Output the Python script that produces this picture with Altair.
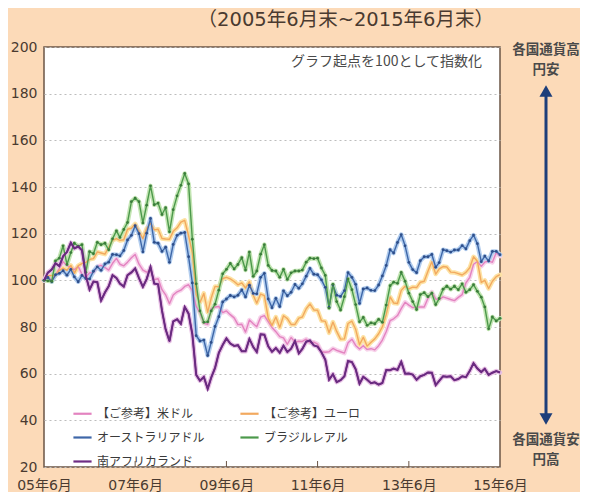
import altair as alt
import pandas as pd

# Monthly points, June 2005 .. June 2015 (index, start = 100)
dates = pd.date_range("2005-06-30", "2015-06-30", freq="ME").strftime("%Y-%m-%dT00:00:00").tolist()

names = ["【ご参考】米ドル", "【ご参考】ユーロ", "オーストラリアドル", "ブラジルレアル", "南アフリカランド"]

usd = [100, 101.4, 100.1, 102.3, 105.0, 108.0, 106.3,
       105.7, 104.5, 106.0, 102.6, 101.3, 103.2, 103.3, 105.9, 106.4, 105.5, 104.4, 107.3,
       109.4, 106.9, 106.2, 107.8, 109.7, 111.1, 106.9, 104.4, 103.5, 104.0, 100.3, 100.7,
       96.0, 93.8, 90.0, 93.7, 95.1, 95.8, 97.4, 98.1, 95.6, 88.8, 86.1, 81.7,
       81.1, 87.9, 88.6, 88.8, 86.2, 86.9, 85.3, 83.9, 81.0, 81.2, 77.8, 83.0,
       81.4, 80.1, 84.2, 84.9, 82.3, 79.8, 78.0, 75.9, 75.3, 72.6, 75.5, 73.5,
       73.9, 73.8, 74.8, 73.2, 73.5, 72.7, 69.4, 69.2, 69.4, 70.8, 70.0, 69.4,
       68.8, 73.2, 74.8, 72.1, 70.6, 72.0, 70.4, 70.7, 70.2, 72.0, 74.4, 78.1,
       82.7, 83.5, 84.9, 87.9, 90.6, 89.4, 88.3, 88.5, 88.6, 88.6, 92.3, 95.0,
       92.0, 91.8, 92.9, 92.4, 91.8, 91.3, 92.7, 93.9, 98.9, 101.3, 106.9, 108.0,
       106.0, 107.8, 108.3, 107.7, 111.9, 110.4]

eur = [100, 101.9, 102.1, 102.1, 104.2, 105.2, 104.3,
       106.4, 103.0, 106.3, 107.2, 107.7, 109.0, 109.3, 112.2, 111.7, 111.2, 114.1, 117.1,
       117.9, 117.1, 117.4, 121.9, 122.3, 124.2, 121.0, 117.8, 122.2, 124.5, 121.6, 121.9,
       117.9, 117.7, 117.6, 121.0, 122.5, 124.9, 125.7, 119.1, 111.9, 93.8, 90.5, 94.4,
       86.3, 92.4, 97.4, 97.2, 100.8, 101.3, 100.6, 99.5, 98.1, 98.9, 96.7, 99.4,
       93.6, 90.2, 94.1, 93.4, 83.7, 80.7, 84.3, 79.8, 84.8, 83.6, 81.1, 81.1,
       83.8, 84.3, 87.8, 89.9, 87.3, 87.2, 82.7, 82.4, 77.5, 82.1, 78.1, 74.8,
       74.9, 81.5, 82.5, 79.0, 72.4, 75.6, 71.8, 73.5, 74.9, 77.1, 80.1, 85.4,
       92.9, 90.3, 90.1, 95.7, 97.5, 96.3, 97.1, 96.9, 99.2, 99.6, 103.9, 108.0,
       102.7, 104.9, 105.9, 105.7, 103.5, 103.4, 102.9, 102.3, 103.4, 105.4, 110.1, 108.2,
       99.1, 100.0, 96.5, 99.6, 101.6, 102.4]

aud = [100, 101.2, 99.4, 102.4, 103.0, 104.1, 102.2,
       104.7, 101.5, 99.4, 102.1, 100.8, 100.6, 103.9, 105.8, 104.3, 107.0, 107.8, 111.1,
       111.0, 110.5, 112.8, 117.3, 119.3, 123.4, 120.0, 112.2, 120.2, 126.5, 116.3, 115.9,
       112.4, 114.2, 107.7, 115.4, 119.3, 120.2, 120.5, 110.1, 98.9, 76.3, 74.0, 74.4,
       67.8, 73.4, 80.2, 84.4, 90.7, 92.0, 93.5, 92.9, 93.6, 95.9, 92.9, 97.9,
       94.4, 94.2, 101.3, 103.0, 92.0, 88.3, 92.3, 88.8, 95.5, 93.4, 94.9, 98.2,
       96.6, 98.5, 101.8, 105.1, 102.6, 102.4, 100.2, 97.0, 88.5, 98.0, 93.6, 93.1,
       95.6, 103.3, 101.3, 98.3, 90.1, 96.3, 96.7, 95.7, 95.6, 98.0, 101.9, 106.4,
       113.1, 111.7, 116.2, 119.6, 114.8, 107.7, 104.6, 103.3, 108.4, 110.1, 110.1, 111.1,
       105.6, 107.6, 113.1, 112.7, 112.1, 113.0, 113.0, 114.9, 113.5, 117.0, 119.4, 115.7,
       108.0, 110.4, 108.3, 112.4, 112.4, 111.0]

brl = [100, 99.8, 99.6, 108.3, 109.5, 114.8, 106.8,
       111.9, 115.9, 114.6, 115.3, 103.4, 112.3, 111.4, 116.3, 115.3, 115.9, 113.1, 117.8,
       121.2, 118.4, 121.8, 124.8, 133.7, 135.2, 133.7, 124.6, 132.2, 140.5, 132.4, 133.1,
       128.2, 131.1, 120.8, 130.3, 136.2, 140.7, 145.8, 141.3, 117.6, 98.5, 86.9, 82.0,
       82.2, 86.9, 89.8, 95.8, 102.8, 104.7, 107.2, 104.9, 106.8, 109.7, 104.4, 112.1,
       101.7, 104.0, 111.2, 115.3, 106.4, 104.2, 104.0, 101.3, 104.7, 100.4, 103.2, 104.0,
       104.0, 104.4, 107.8, 109.5, 109.3, 109.5, 105.3, 102.1, 88.1, 98.3, 90.9, 87.3,
       93.0, 100.6, 96.0, 89.6, 82.2, 84.1, 80.7, 81.8, 81.4, 83.3, 82.0, 89.4,
       97.7, 99.2, 98.7, 103.4, 99.6, 94.5, 90.9, 87.5, 93.9, 94.7, 93.0, 94.5,
       89.6, 92.2, 96.2, 97.5, 96.2, 97.5, 96.0, 98.5, 94.9, 96.0, 98.1, 95.3,
       92.8, 88.6, 79.2, 84.3, 82.6, 83.7]

zar = [100, 103.3, 104.6, 107.3, 106.1, 110.3, 112.2,
       116.1, 113.7, 114.5, 112.9, 102.0, 96.0, 99.5, 99.2, 91.3, 94.8, 97.4, 102.2,
       101.0, 98.6, 97.3, 102.2, 103.4, 105.1, 100.9, 97.2, 100.5, 105.8, 98.6, 98.3,
       87.0, 79.0, 73.9, 82.4, 83.3, 81.4, 88.6, 85.7, 76.9, 59.5, 57.0, 58.6,
       53.5, 58.3, 62.5, 68.9, 72.3, 75.1, 72.9, 71.9, 72.2, 69.6, 69.6, 74.9,
       71.4, 69.3, 76.9, 76.7, 71.7, 69.4, 71.0, 69.0, 72.0, 69.3, 70.7, 74.0,
       68.7, 70.6, 73.7, 74.2, 72.1, 71.6, 69.2, 65.9, 57.4, 59.8, 56.4, 57.2,
       58.9, 65.4, 65.0, 61.9, 55.7, 58.7, 57.4, 55.9, 56.3, 55.3, 56.0, 61.6,
       61.5, 62.2, 61.6, 65.1, 60.0, 60.1, 59.6, 57.4, 58.9, 59.5, 60.5, 60.4,
       55.1, 56.9, 58.9, 58.7, 58.9, 57.2, 57.7, 58.9, 58.5, 61.2, 64.5, 62.2,
       60.7, 62.1, 59.5, 60.4, 61.1, 60.5]

dark = ["#e383c0", "#f2a95f", "#3e67a8", "#4c994b", "#6e2c84"]
light = ["#f7d2ea", "#fde2a4", "#b2cdee", "#c3e5b3", "#e7c0e4"]
tick_years = [2005, 2007, 2009, 2011, 2013, 2015]

# legend is filled column by column: column 1 = 米ドル, AUD, ZAR; column 2 = ユーロ, BRL
legend_order = [0, 2, 4, 1, 3]
leg_names = [names[i] for i in legend_order]
leg_dark = [dark[i] for i in legend_order]

series = [usd, eur, aud, brl, zar]
rows = []
for k, (name, vals) in enumerate(zip(names, series)):
    for d, v in zip(dates, vals):
        rows.append({"date": d, "series": name, "value": v, "k": k})
df = pd.DataFrame(rows)

FONT = "DejaVu Sans, Noto Sans CJK JP"
TXT = "#4a3a30"

x_enc = alt.X(
    "date:T",
    scale=alt.Scale(domain=[alt.DateTime(year=2005, month=6, date=30),
                            alt.DateTime(year=2015, month=6, date=30)]),
    axis=alt.Axis(values=[alt.DateTime(year=y, month=6, date=30) for y in tick_years],
                  labelExpr="timeFormat(datum.value, '%y') + '年6月'",
                  title=None, grid=False, ticks=False, domain=False,
                  labelFlush=False, labelOverlap=False,
                  labelFontSize=14, labelColor=TXT, labelPadding=11, labelFont=FONT),
)
y_enc = alt.Y(
    "value:Q",
    scale=alt.Scale(domain=[20, 200], nice=False),
    axis=alt.Axis(values=list(range(20, 201, 20)), title=None, grid=True,
                  gridDash=[2, 3], gridColor="#bdbdbd", ticks=False, domain=False,
                  labelFontSize=14, labelColor=TXT, labelPadding=7, labelFont=FONT),
)

base = alt.Chart(df)

halo = base.mark_line(strokeWidth=4.5, strokeCap="round", strokeJoin="round").encode(
    x=x_enc, y=y_enc,
    color=alt.Color("series:N", scale=alt.Scale(domain=names, range=light), legend=None),
    detail="series:N",
)

main = base.mark_line(strokeWidth=1.4, strokeJoin="round").encode(
    x=x_enc, y=y_enc,
    color=alt.Color(
        "series:N", scale=alt.Scale(domain=leg_names, range=leg_dark),
        legend=alt.Legend(orient="none", legendX=28, legendY=356, columns=2,
                          symbolType="stroke", symbolSize=330, symbolStrokeWidth=2.2,
                          labelFontSize=12, labelColor="#3a3a3a", labelFont="Noto Sans CJK JP",
                          rowPadding=7, columnPadding=30, title=None, labelLimit=300,
                          padding=0),
    ),
    order="k:Q",
)

aud_pts = base.transform_filter(alt.datum.series == names[2]).mark_point(
    filled=True, size=8, opacity=1, color="#2f4f8a").encode(x="date:T", y="value:Q")
brl_pts = base.transform_filter(alt.datum.series == names[3]).mark_point(
    filled=True, size=8, opacity=1, color="#3b7d3b").encode(x="date:T", y="value:Q")

zar_line = base.transform_filter(alt.datum.series == names[4]).mark_line(
    strokeWidth=2.0, color="#6a2a80").encode(x="date:T", y="value:Q")

ticks_df = pd.DataFrame({"d": [f"{y}-06-30T00:00:00" for y in tick_years[1:-1]]})
xticks = alt.Chart(ticks_df).mark_rule(color="#6b5646", strokeWidth=1).encode(
    x="d:T", y=alt.value(420), y2=alt.value(414))

one = pd.DataFrame({"a": [0]})


def label(text, xpx, ypx, size, color="#4a4a4a", weight="bold", align="center", font="Noto Sans CJK JP"):
    return alt.Chart(one).mark_text(text=text, fontSize=size, font=font,
                                    fontWeight=weight, color=color, align=align,
                                    baseline="middle").encode(x=alt.value(xpx), y=alt.value(ypx))


NAVY = "#1d3e7a"
arrow = alt.Chart(one).mark_rule(color=NAVY, strokeWidth=3).encode(
    x=alt.value(502), y=alt.value(48), y2=alt.value(368))
head_up = alt.Chart(one).mark_point(shape="triangle-up", filled=True, size=170,
                                    color=NAVY, opacity=1).encode(x=alt.value(502), y=alt.value(44))
head_dn = alt.Chart(one).mark_point(shape="triangle-down", filled=True, size=170,
                                    color=NAVY, opacity=1).encode(x=alt.value(502), y=alt.value(372))

title = label("（2005年6月末~2015年6月末）", 450, -27, 19.5, color=TXT, weight="normal",
              align="right", font=FONT)
note = label("グラフ起点を100として指数化", 438, 15, 14, color="#4a4a4a", weight="normal",
             align="right")

chart = alt.layer(
    halo, main, aud_pts, brl_pts, zar_line, xticks,
    title, note,
    label("各国通貨高", 502, 3, 13.5), label("円安", 502, 23, 13.5),
    arrow, head_up, head_dn,
    label("各国通貨安", 502, 393, 13.5), label("円高", 502, 413, 13.5),
).resolve_scale(color="independent").properties(
    width=456, height=420,
    autosize=alt.AutoSizeParams(type="none"),
    padding={"left": 36, "top": 39, "right": 80, "bottom": 25},
).configure(
    background="#FCDAB8",
    font="Noto Sans CJK JP",
).configure_view(
    fill="white", stroke="#6b5646", strokeWidth=1.5,
)

chart.save("out.html", embed_options={"renderer": "svg", "actions": False})
